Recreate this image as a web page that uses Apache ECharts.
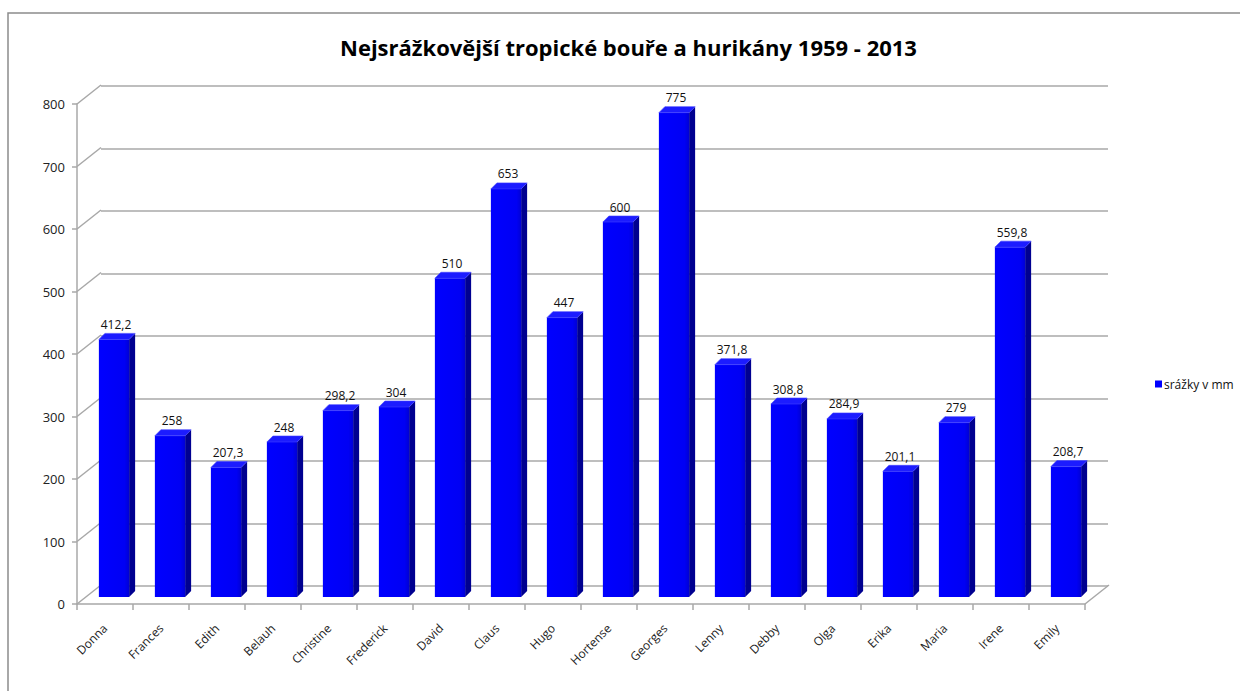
<!DOCTYPE html>
<html>
<head>
<meta charset="utf-8">
<script src="https://cdn.jsdelivr.net/npm/echarts@6/dist/echarts.min.js"></script>
<style>
  html, body { margin: 0; padding: 0; background: #fff; }
  #chart { width: 1240px; height: 691px; }
</style>
</head>
<body>
<div id="chart"></div>
<script>
// Rainfall totals (mm) of the wettest tropical storms and hurricanes, 1959 - 2013
const storms = ['Donna', 'Frances', 'Edith', 'Belauh', 'Christine', 'Frederick', 'David', 'Claus', 'Hugo',
  'Hortense', 'Georges', 'Lenny', 'Debby', 'Olga', 'Erika', 'Maria', 'Irene', 'Emily'];
const rainfall = [412.2, 258, 207.3, 248, 298.2, 304, 510, 653, 447, 600, 775, 371.8, 308.8, 284.9, 201.1, 279, 559.8, 208.7];
const yTicks = [0, 100, 200, 300, 400, 500, 600, 700, 800];
const seriesName = 'srážky v mm';
const chartTitle = 'Nejsrážkovější tropické bouře a hurikány 1959 - 2013';

const FONT = '"Open Sans", "DejaVu Sans", sans-serif';
const GRID_COLOR = '#a8a8a8';
// depth of the 3D box (back wall offset from the front axis plane)
const DEPTH_X = 24, DEPTH_Y = -19;
// depth of one column
const COL_DX = 6, COL_DY = -6;

const fmt = v => String(v).replace('.', ',');

const chart = echarts.init(document.getElementById('chart'), null, { renderer: 'svg' });

// 3D-looking column: front face, right side and top
function renderColumn(params, api) {
  const idx = api.value(0);
  const val = api.value(1);
  const top = api.coord([idx, val]);
  const base = api.coord([idx, 0]);
  const w = api.size([1, 0])[0] * 0.54;
  const x0 = top[0] - w / 2, x1 = top[0] + w / 2;
  const y0 = top[1], yb = base[1];
  return {
    type: 'group',
    children: [
      {
        type: 'polygon',
        shape: { points: [[x1, y0], [x1 + COL_DX, y0 + COL_DY], [x1 + COL_DX, yb + COL_DY], [x1, yb]] },
        style: { fill: '#000090' }
      },
      {
        type: 'rect',
        shape: { x: x0, y: y0, width: w, height: yb - y0 },
        style: {
          fill: new echarts.graphic.LinearGradient(0, 0, 1, 0, [
            { offset: 0, color: '#0000ff' },
            { offset: 0.85, color: '#0000f4' },
            { offset: 1, color: '#0000d6' }
          ])
        }
      },
      {
        type: 'polygon',
        shape: { points: [[x0, y0], [x1, y0], [x1 + COL_DX, y0 + COL_DY], [x0 + COL_DX, y0 + COL_DY]] },
        style: { fill: '#1c1cff', stroke: '#4040ff', lineWidth: 0.6 }
      },
      {
        type: 'text',
        style: {
          text: fmt(val),
          x: top[0] + 2,
          y: y0 + COL_DY - 3,
          align: 'center',
          verticalAlign: 'bottom',
          font: '12px ' + FONT,
          fill: '#111'
        }
      }
    ]
  };
}

// diagonal edges joining the front axis ticks to the back wall gridlines
function renderDepthEdge(params, api) {
  const v = api.value(0);
  const y = api.coord([0, v])[1];
  const cs = params.coordSys;
  const children = [{
    type: 'line',
    shape: { x1: cs.x, y1: y, x2: cs.x + DEPTH_X, y2: y + DEPTH_Y },
    style: { stroke: GRID_COLOR, lineWidth: 1.5 }
  }];
  if (v === 0) {
    const xr = cs.x + cs.width;
    children.push({
      type: 'line',
      shape: { x1: xr, y1: y, x2: xr + DEPTH_X, y2: y + DEPTH_Y },
      style: { stroke: GRID_COLOR, lineWidth: 1.5 }
    });
  }
  return { type: 'group', children };
}

const yBase = { type: 'value', min: 0, max: 800, interval: 100 };

chart.setOption({
  animation: false,
  backgroundColor: '#fff',
  title: {
    text: chartTitle,
    left: 335,
    top: 31,
    textStyle: { fontFamily: FONT, fontSize: 22, fontWeight: 'bold', color: '#000' }
  },
  legend: {
    data: [seriesName],
    left: 1150,
    top: 373,
    icon: 'rect',
    itemWidth: 7,
    itemHeight: 7,
    itemGap: 4,
    textStyle: { fontFamily: FONT, fontSize: 12, color: '#111', padding: [0, 0, 0, -3] }
  },
  graphic: [{
    type: 'rect',
    shape: { x: 8, y: 13, width: 1260, height: 700 },
    style: { fill: 'none', stroke: '#8c8c8c', lineWidth: 1.5 },
    silent: true
  }],
  grid: [
    // back wall
    { left: 101, top: 86, width: 1007, height: 500 },
    // front axis plane
    { left: 77, top: 104, width: 1008, height: 500 },
    // plane of the columns
    { left: 86, top: 97, width: 1008, height: 500 }
  ],
  xAxis: [
    { gridIndex: 0, type: 'category', data: storms, show: false },
    {
      gridIndex: 1, type: 'category', data: storms,
      axisLine: { lineStyle: { color: GRID_COLOR, width: 1.5 } },
      axisTick: { show: true, length: 6, lineStyle: { color: GRID_COLOR, width: 1.5 } },
      axisLabel: { rotate: 45, margin: 22, fontFamily: FONT, fontSize: 12, color: '#222', interval: 0 }
    },
    { gridIndex: 2, type: 'category', data: storms, show: false }
  ],
  yAxis: [
    Object.assign({ gridIndex: 0 }, yBase, {
      axisLine: { show: false }, axisTick: { show: false }, axisLabel: { show: false },
      splitLine: { show: true, lineStyle: { color: GRID_COLOR, width: 1.5 } }
    }),
    Object.assign({ gridIndex: 1 }, yBase, {
      axisLine: { show: true, lineStyle: { color: GRID_COLOR, width: 1.5 } },
      axisTick: { show: true, length: 5, lineStyle: { color: GRID_COLOR, width: 1.5 } },
      axisLabel: { margin: 12, fontFamily: FONT, fontSize: 13, color: '#222' },
      splitLine: { show: false }
    }),
    Object.assign({ gridIndex: 2 }, yBase, { show: false, splitLine: { show: false } })
  ],
  series: [
    {
      type: 'custom',
      name: 'edges',
      xAxisIndex: 1, yAxisIndex: 1,
      silent: true,
      data: yTicks.map(v => [v]),
      encode: { y: 0 },
      renderItem: renderDepthEdge,
      z: 1
    },
    {
      type: 'custom',
      name: seriesName,
      xAxisIndex: 2, yAxisIndex: 2,
      itemStyle: { color: '#0000ff' },
      data: rainfall.map((v, i) => [i, v]),
      encode: { x: 0, y: 1 },
      renderItem: renderColumn,
      z: 5
    }
  ]
});
</script>
</body>
</html>
